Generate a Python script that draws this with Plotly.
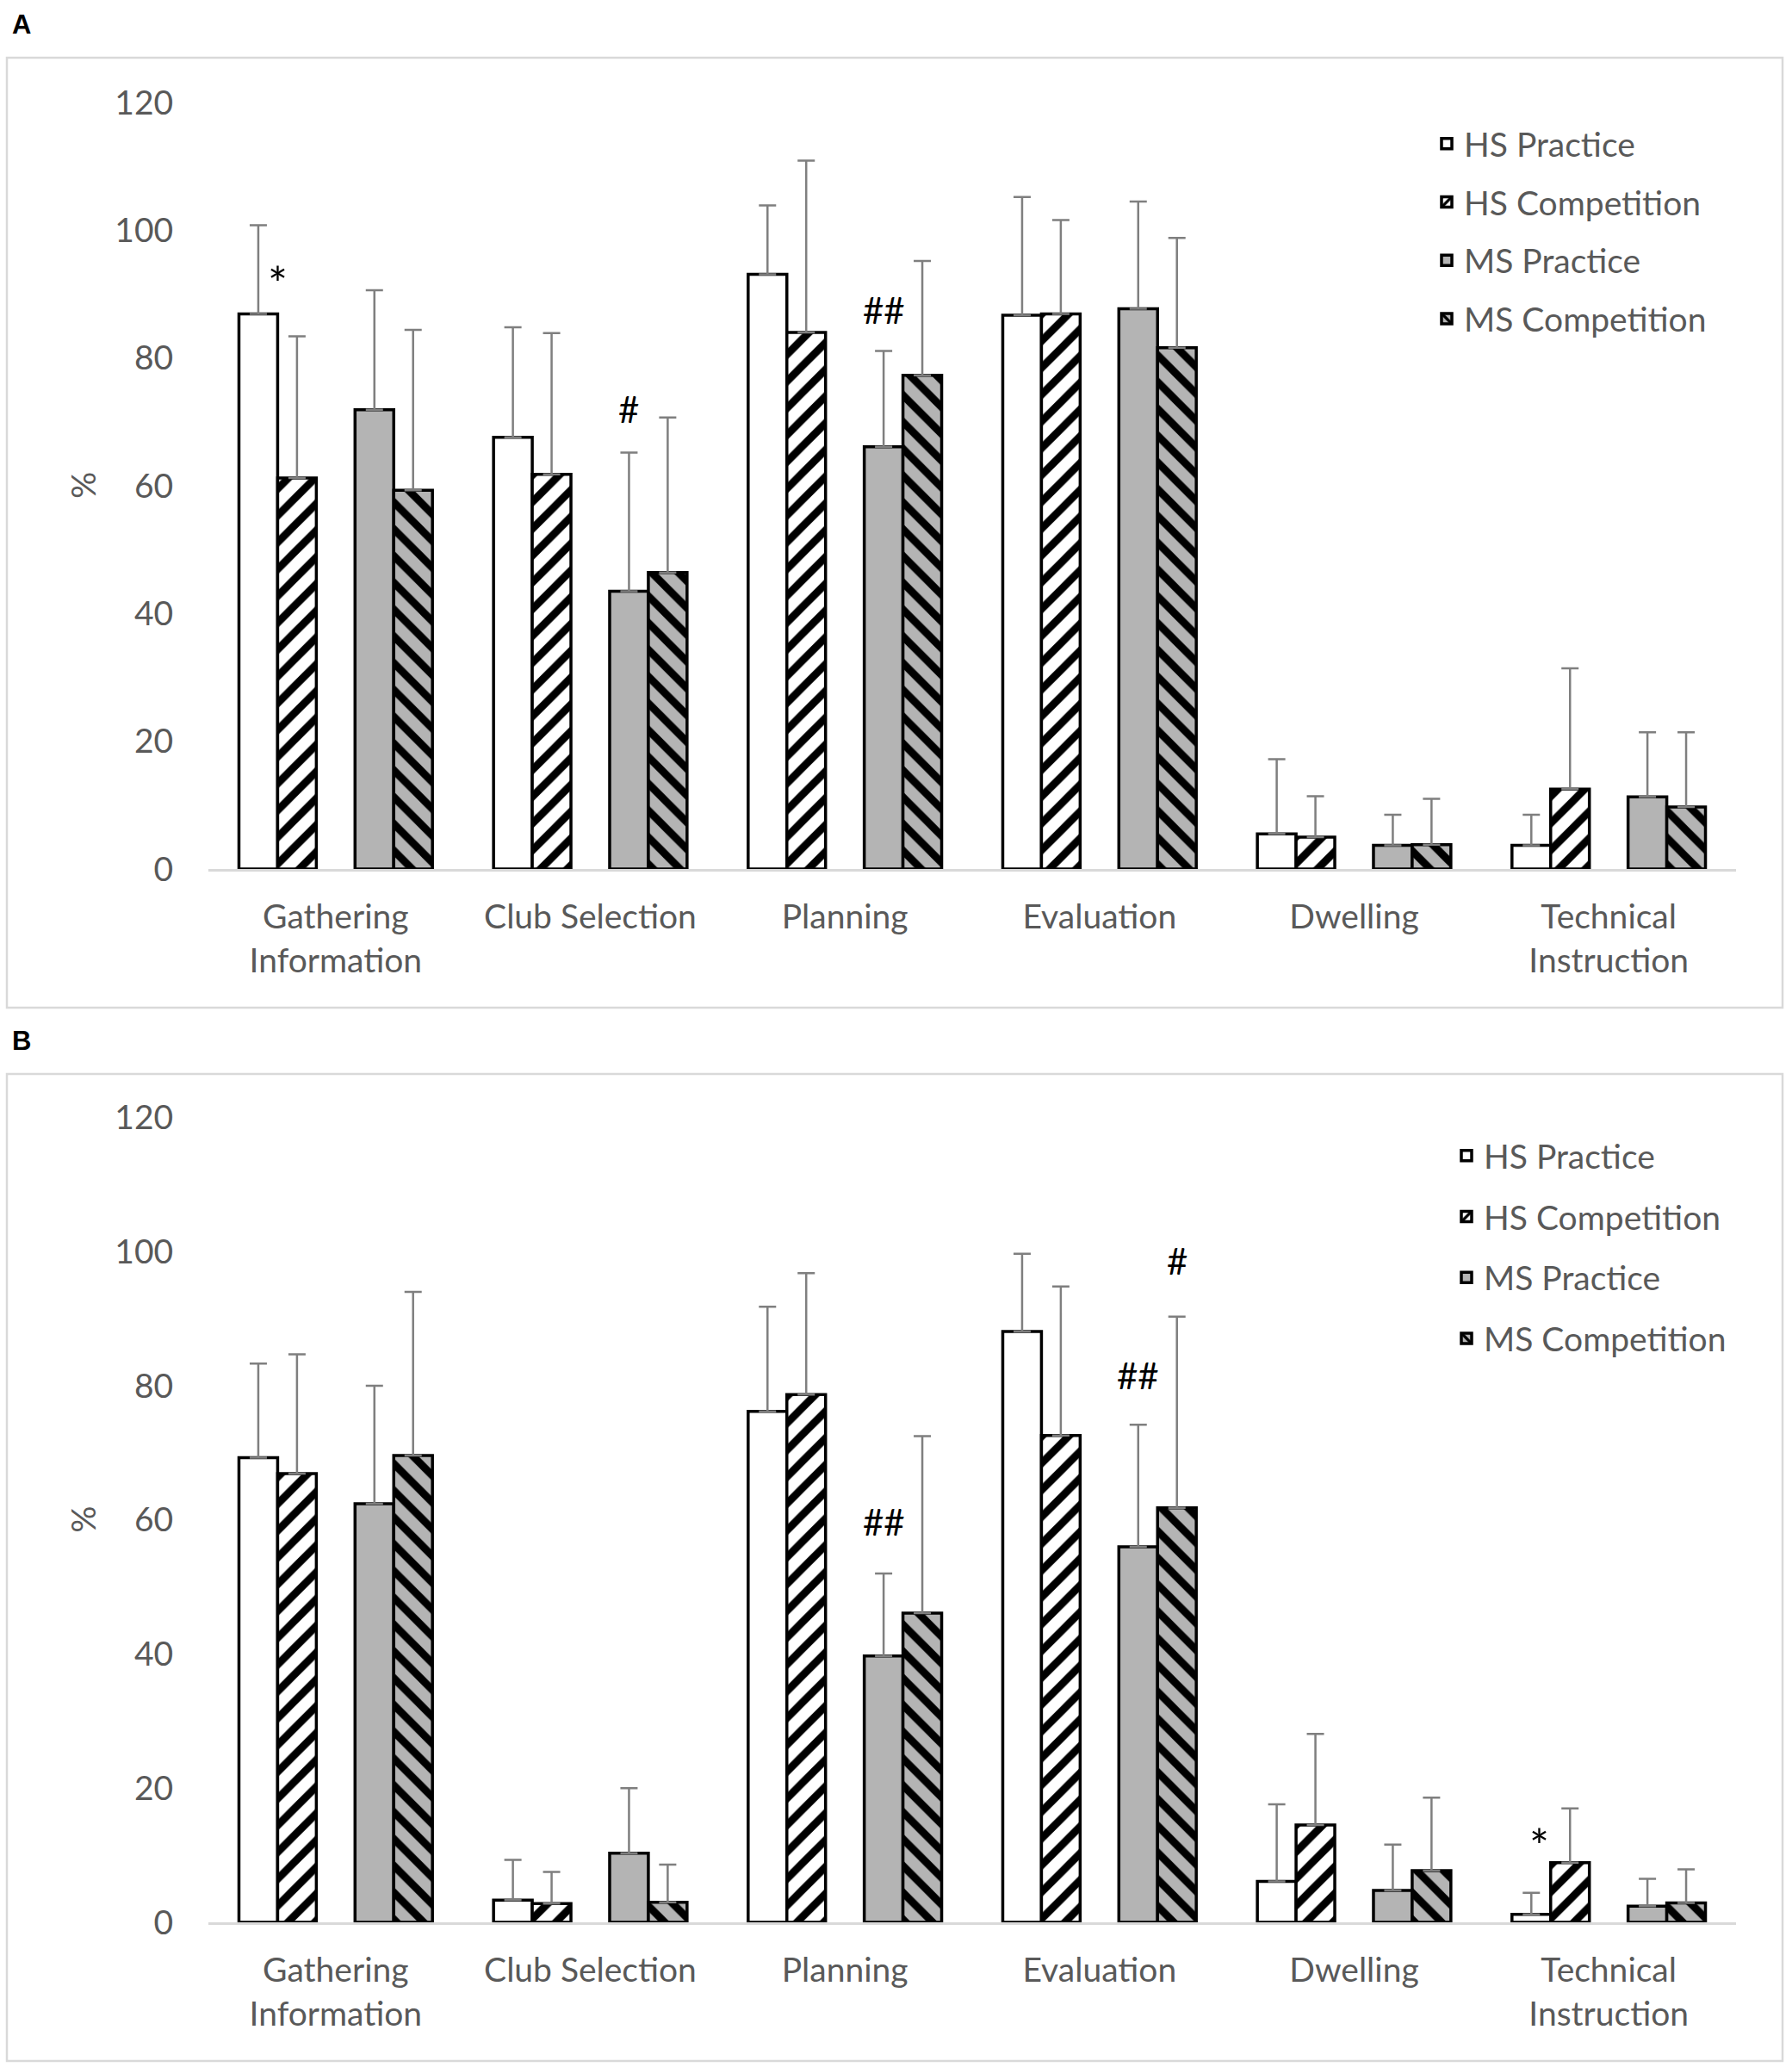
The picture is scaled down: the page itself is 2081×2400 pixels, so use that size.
import plotly.graph_objects as go

# ---------------- data ----------------
categories = ["Gathering Information", "Club Selection", "Planning",
              "Evaluation", "Dwelling", "Technical Instruction"]
tick_labels = ["Gathering<br>Information", "Club Selection", "Planning",
               "Evaluation", "Dwelling", "Technical<br>Instruction"]
series_names = ["HS Practice", "HS Competition", "MS Practice", "MS Competition"]
y_ticks = [0, 20, 40, 60, 80, 100, 120]

# Panel A means and SD
a_hs_practice = [86.9, 67.6, 93.1, 86.7, 5.5, 3.7]
a_hs_competition = [61.2, 61.8, 84.0, 86.9, 5.0, 12.5]
a_ms_practice = [71.9, 43.5, 66.1, 87.7, 3.7, 11.3]
a_ms_competition = [59.3, 46.4, 77.3, 81.6, 3.8, 9.7]
a_hs_practice_sd = [13.9, 17.2, 10.8, 18.5, 11.7, 4.8]
a_hs_competition_sd = [22.2, 22.1, 26.9, 14.7, 6.4, 18.9]
a_ms_practice_sd = [18.7, 21.7, 15.0, 16.8, 4.8, 10.1]
a_ms_competition_sd = [25.1, 24.3, 17.9, 17.2, 7.2, 11.7]

# Panel B means and SD
b_hs_practice = [69.3, 3.3, 76.2, 88.1, 6.1, 1.2]
b_hs_competition = [66.9, 2.8, 78.7, 72.6, 14.5, 8.9]
b_ms_practice = [62.4, 10.3, 39.7, 56.0, 4.75, 2.4]
b_ms_competition = [69.6, 3.0, 46.1, 61.8, 7.7, 2.9]
b_hs_practice_sd = [14.0, 6.0, 15.6, 11.6, 11.5, 3.2]
b_hs_competition_sd = [17.8, 4.7, 18.1, 22.2, 13.6, 8.1]
b_ms_practice_sd = [17.6, 9.7, 12.3, 18.2, 6.85, 4.1]
b_ms_competition_sd = [24.4, 5.6, 26.4, 28.5, 10.9, 5.0]

# significance marks
mark_panel = ["A", "A", "A", "B", "B", "B", "B"]
mark_category = [0, 1, 2, 2, 3, 3, 5]
mark_slot = [0.5, 3, 3, 3, 3, 4, 0.2]
mark_y = [93.1, 72.0, 87.5, 59.7, 81.5, 98.6, 12.8]
mark_text = ["*", "#", "##", "##", "##", "#", "*"]

# ---------------- styling ----------------
W, H = 2081, 2400
FONT = "Lato"
GREY_TXT = "#595959"
fills = ["white", "white", "#b4b4b4", "#b4b4b4"]
shapes_pat = ["", "/", "", "\\"]
slots = [0, 1, 3, 4]
bargap = 0.24
bw = (1 - bargap) / 5.0

panels = {
    "A": dict(means=[a_hs_practice, a_hs_competition, a_ms_practice, a_ms_competition],
              sds=[a_hs_practice_sd, a_hs_competition_sd, a_ms_practice_sd, a_ms_competition_sd],
              xa="x", ya="y", legend="legend",
              ydom=(1 - 1009 / H, 1 - 119 / H), box=(67, 1170)),
    "B": dict(means=[b_hs_practice, b_hs_competition, b_ms_practice, b_ms_competition],
              sds=[b_hs_practice_sd, b_hs_competition_sd, b_ms_practice_sd, b_ms_competition_sd],
              xa="x2", ya="y2", legend="legend2",
              ydom=(1 - 2232 / H, 1 - 1297.6 / H), box=(1247, 2393)),
}

fig = go.Figure()
xpos = list(range(len(categories)))
for pname, p in panels.items():
    for i, name in enumerate(series_names):
        fig.add_trace(go.Bar(
            x=xpos, y=p["means"][i], name=name,
            width=bw, offset=-(1 - bargap) / 2 + slots[i] * bw,
            marker=dict(color=fills[i],
                        line=dict(color="black", width=3.5),
                        pattern=dict(shape=shapes_pat[i], fgcolor="black",
                                     bgcolor=fills[i], size=22, solidity=0.4,
                                     fillmode="replace")),
            error_y=dict(type="data", symmetric=False, array=p["sds"][i],
                         arrayminus=[0] * len(categories),
                         color="#7f7f7f", thickness=2.5, width=10),
            xaxis=p["xa"], yaxis=p["ya"], legend=p["legend"],
            legendgroup=pname + name, hoverinfo="skip",
        ))

axis_common_x = dict(range=[-0.5, len(categories) - 0.5], tickmode="array",
                     tickvals=xpos, ticktext=tick_labels,
                     tickfont=dict(family=FONT, size=39, color=GREY_TXT),
                     showline=True, linecolor="#d9d9d9", linewidth=3,
                     ticks="outside", ticklen=19, tickcolor="rgba(0,0,0,0)",
                     showgrid=False, zeroline=False, fixedrange=True,
                     automargin=False, domain=[242 / W, 2016 / W])
axis_common_y = dict(range=[0, 120], tickmode="array", tickvals=y_ticks,
                     tickfont=dict(family=FONT, size=39, color=GREY_TXT),
                     showline=False, showgrid=False, zeroline=False,
                     ticks="outside", ticklen=32, tickcolor="rgba(0,0,0,0)",
                     automargin=False, fixedrange=True)

shapes = []
annotations = []
for pname, p in panels.items():
    top, bot = p["box"]
    shapes.append(dict(type="rect", xref="paper", yref="paper",
                       x0=8 / W, x1=2070 / W, y0=1 - bot / H, y1=1 - top / H,
                       line=dict(color="#d9d9d9", width=2.5), fillcolor="rgba(0,0,0,0)",
                       layer="below"))
    annotations.append(dict(text="<b>%s</b>" % pname, xref="paper", yref="paper",
                            x=12 / W, y=1 - (top - 58) / H, xanchor="left", yanchor="top",
                            showarrow=False,
                            font=dict(family="Liberation Sans", size=31, color="black")))
    annotations.append(dict(text="%", xref="paper", yref=p["ya"], x=96 / W, y=60,
                            textangle=-90, showarrow=False, xanchor="center", yanchor="middle",
                            font=dict(family=FONT, size=39, color=GREY_TXT)))

for pn, c, s, yv, t in zip(mark_panel, mark_category, mark_slot, mark_y, mark_text):
    p = panels[pn]
    xv = c - (1 - bargap) / 2 + (s + 0.5) * bw
    star = t == "*"
    annotations.append(dict(text=t, x=xv, y=yv, xref=p["xa"], yref=p["ya"],
                            showarrow=False, xanchor="center", yanchor="middle",
                            yshift=-10 if star else 0,
                            font=dict(family=FONT, size=54 if star else 42, color="black")))

legend_common = dict(font=dict(family=FONT, size=39, color=GREY_TXT),
                     bgcolor="rgba(0,0,0,0)", xanchor="left", yanchor="top",
                     traceorder="grouped", itemclick=False,
                     itemdoubleclick=False)

fig.update_layout(
    width=W, height=H, autosize=False,
    margin=dict(l=0, r=0, t=0, b=0, pad=0, autoexpand=False),
    paper_bgcolor="white", plot_bgcolor="white",
    barmode="overlay", showlegend=True,
    xaxis=dict(axis_common_x, anchor="y"),
    yaxis=dict(axis_common_y, anchor="x", domain=list(panels["A"]["ydom"])),
    xaxis2=dict(axis_common_x, anchor="y2"),
    yaxis2=dict(axis_common_y, anchor="x2", domain=list(panels["B"]["ydom"])),
    legend=dict(legend_common, x=1660 / W, y=1 - 135 / H, tracegroupgap=14),
    legend2=dict(legend_common, x=1683 / W, y=1 - 1310 / H, tracegroupgap=17),
    shapes=shapes, annotations=annotations,
)

fig.write_html("out.html", config={"displayModeBar": False, "staticPlot": True},
               post_script="document.body.style.margin='0';document.body.style.overflow='hidden';")
